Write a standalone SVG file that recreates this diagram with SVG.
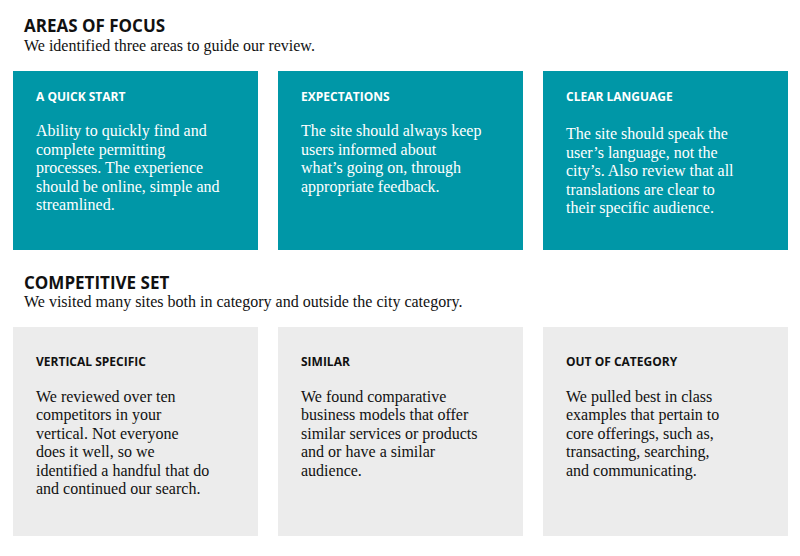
<svg xmlns="http://www.w3.org/2000/svg" width="800" height="556" viewBox="0 0 800 556">
<style>
.h{font-family:"Open Sans","Liberation Sans",sans-serif;font-weight:700;font-size:17px;fill:#111}
.s{font-family:"Liberation Serif",serif;font-size:16px;fill:#111}
.bt{font-family:"Open Sans","Liberation Sans",sans-serif;font-weight:700;font-size:12px}
.b{font-family:"Liberation Serif",serif;font-size:16px}
.teal{fill:#0097a7}.grey{fill:#ececec}
.w{fill:#fff}.d{fill:#111}
</style>
<rect width="800" height="556" fill="#fff"/>
<text class="h" x="24" y="32">AREAS OF FOCUS</text>
<text class="s" x="24" y="51">We identified three areas to guide our review.</text>
<g id="quick-start"><rect class="teal" x="13" y="71" width="245" height="179"/>
<text class="bt w" x="36" y="101">A QUICK START</text>
<text class="b w" x="36" y="136">Ability to quickly find and</text>
<text class="b w" x="36" y="155">complete permitting</text>
<text class="b w" x="36" y="173">processes. The experience</text>
<text class="b w" x="36" y="192">should be online, simple and</text>
<text class="b w" x="36" y="210">streamlined.</text></g>
<g id="expectations"><rect class="teal" x="278" y="71" width="245" height="179"/>
<text class="bt w" x="301" y="101">EXPECTATIONS</text>
<text class="b w" x="301" y="136">The site should always keep</text>
<text class="b w" x="301" y="155">users informed about</text>
<text class="b w" x="301" y="173">what’s going on, through</text>
<text class="b w" x="301" y="192">appropriate feedback.</text></g>
<g id="clear-language"><rect class="teal" x="543" y="71" width="245" height="179"/>
<text class="bt w" x="566" y="101">CLEAR LANGUAGE</text>
<text class="b w" x="566" y="139">The site should speak the</text>
<text class="b w" x="566" y="158">user’s language, not the</text>
<text class="b w" x="566" y="176">city’s. Also review that all</text>
<text class="b w" x="566" y="195">translations are clear to</text>
<text class="b w" x="566" y="213">their specific audience.</text></g>
<text class="h" x="24" y="289">COMPETITIVE SET</text>
<text class="s" x="24" y="307">We visited many sites both in category and outside the city category.</text>
<g id="vertical-specific"><rect class="grey" x="13" y="327" width="245" height="209"/>
<text class="bt d" x="36" y="366">VERTICAL SPECIFIC</text>
<text class="b d" x="36" y="402">We reviewed over ten</text>
<text class="b d" x="36" y="420">competitors in your</text>
<text class="b d" x="36" y="439">vertical. Not everyone</text>
<text class="b d" x="36" y="457">does it well, so we</text>
<text class="b d" x="36" y="476">identified a handful that do</text>
<text class="b d" x="36" y="494">and continued our search.</text></g>
<g id="similar"><rect class="grey" x="278" y="327" width="245" height="209"/>
<text class="bt d" x="301" y="366">SIMILAR</text>
<text class="b d" x="301" y="402">We found comparative</text>
<text class="b d" x="301" y="420">business models that offer</text>
<text class="b d" x="301" y="439">similar services or products</text>
<text class="b d" x="301" y="457">and or have a similar</text>
<text class="b d" x="301" y="476">audience.</text></g>
<g id="out-of-category"><rect class="grey" x="543" y="327" width="245" height="209"/>
<text class="bt d" x="566" y="366">OUT OF CATEGORY</text>
<text class="b d" x="566" y="402">We pulled best in class</text>
<text class="b d" x="566" y="420">examples that pertain to</text>
<text class="b d" x="566" y="439">core offerings, such as,</text>
<text class="b d" x="566" y="457">transacting, searching,</text>
<text class="b d" x="566" y="476">and communicating.</text></g>
<g id="connectors"/>
</svg>
